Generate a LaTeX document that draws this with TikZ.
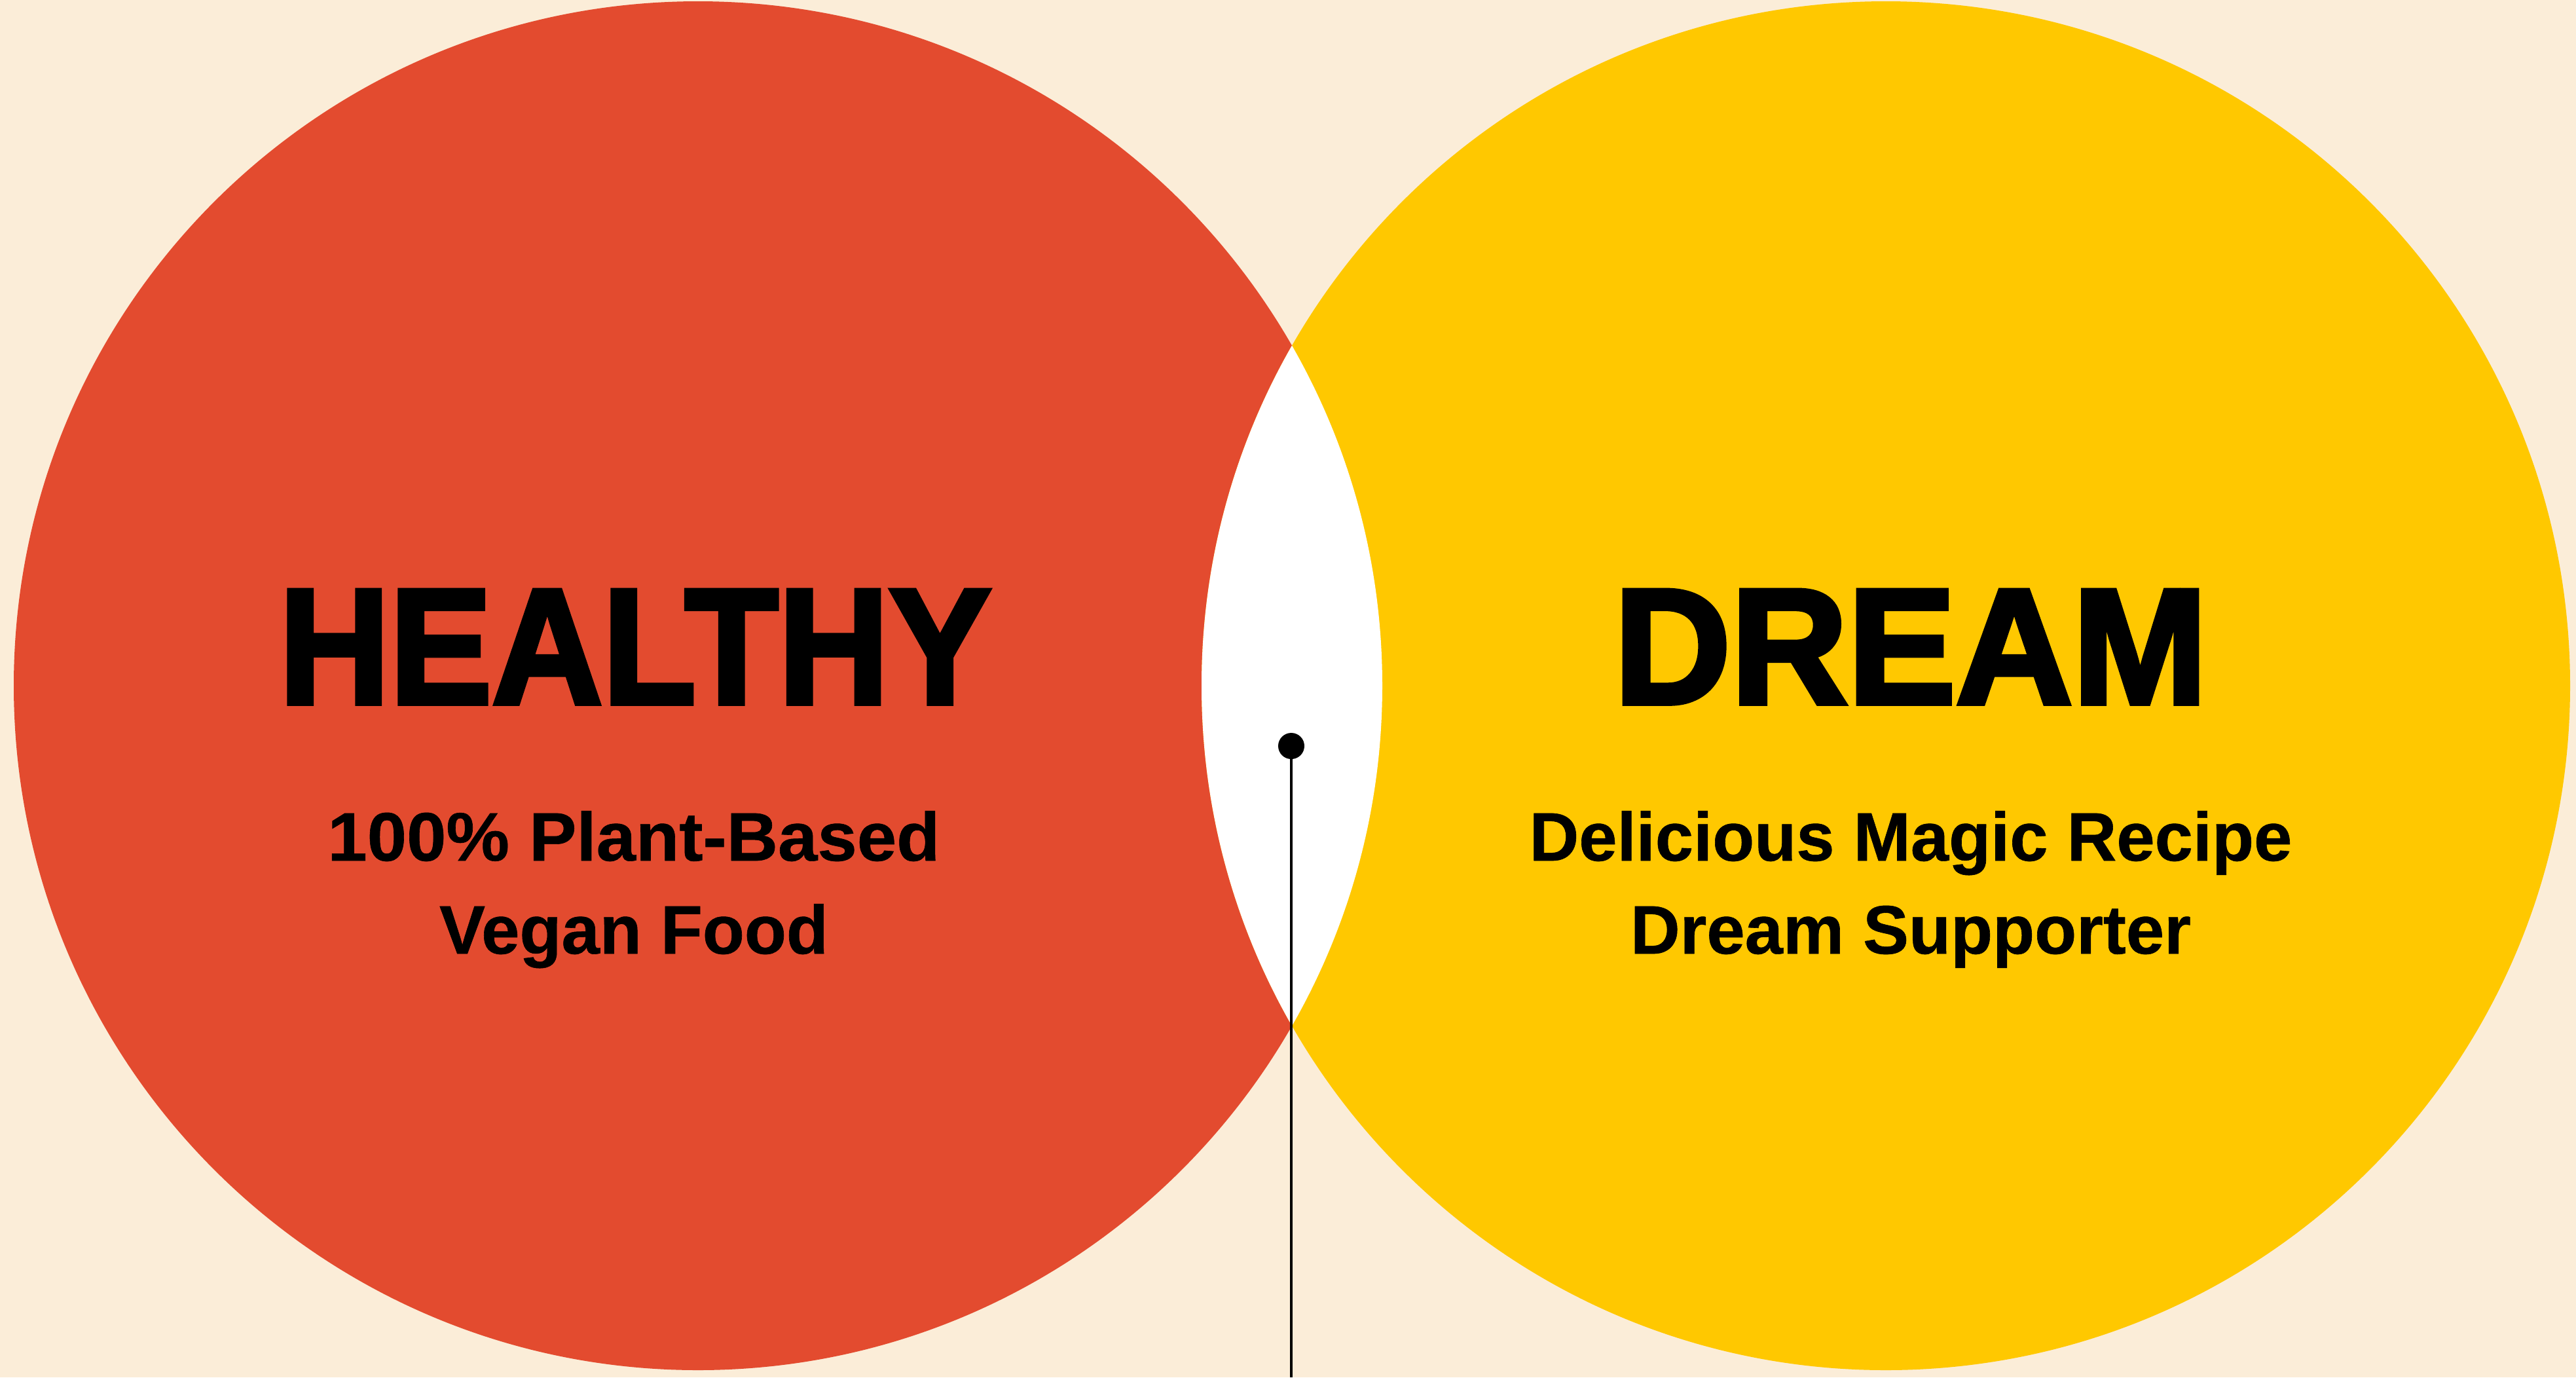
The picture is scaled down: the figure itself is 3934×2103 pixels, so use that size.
\documentclass[tikz,border=0pt]{standalone}
\usepackage{fontspec}
\usepackage{graphicx}
\setmainfont{Liberation Sans}
\newfontfamily\headfont{Liberation Sans}[BoldFont={Liberation Sans Bold}, BoldFeatures={FakeBold=3}]
\newfontfamily\subfont{Liberation Sans}[BoldFont={Liberation Sans Bold}, BoldFeatures={FakeBold=0.6}]
\definecolor{bgcream}{HTML}{FBEDD8}
\definecolor{tomato}{HTML}{E34B2F}
\definecolor{sun}{HTML}{FFC800}
\tikzset{
  titletext/.style={anchor=base, inner sep=0pt, font=\headfont\bfseries\fontsize{62.75pt}{62.75pt}\selectfont},
  subtext/.style={anchor=base, inner sep=0pt, font=\subfont\bfseries\fontsize{26.2pt}{26.2pt}\selectfont},
  pin/.style={circle, fill=black, inner sep=0pt, minimum size=10pt},
  stem/.style={draw=black, line width=0.8pt}
}
\begin{document}
\begin{tikzpicture}[x=0.25pt, y=-0.25pt]
  \fill[bgcream] (0,0) rectangle (3934,2103);
  \useasboundingbox (0,0) rectangle (3934,2103);
  \fill[tomato] (1066,1047) circle [radius=1045];
  \fill[sun] (2880,1047) circle [radius=1045];
  \begin{scope}
    \clip (1066,1047) circle [radius=1045];
    \fill[white] (2880,1047) circle [radius=1045];
  \end{scope}
  \node[titletext] (healthy) at (970,1074) {\scalebox{0.932}[1]{HEALTHY}};
  \node[titletext] (dream) at (2918,1074) {\scalebox{0.985}[1]{DREAM}};
  \node[subtext] (h1) at (968,1314) {\scalebox{1.036}[1]{100\% Plant-Based}};
  \node[subtext] (h2) at (968,1456) {Vegan Food};
  \node[subtext] (d1) at (2918,1314) {Delicious Magic Recipe};
  \node[subtext] (d2) at (2918,1456) {Dream Supporter};
  \node[pin] (dot) at (1972,1139) {};
  \coordinate (foot) at (1972,2103);
  \draw[stem] (dot.center) -- (foot);
\end{tikzpicture}
\end{document}
